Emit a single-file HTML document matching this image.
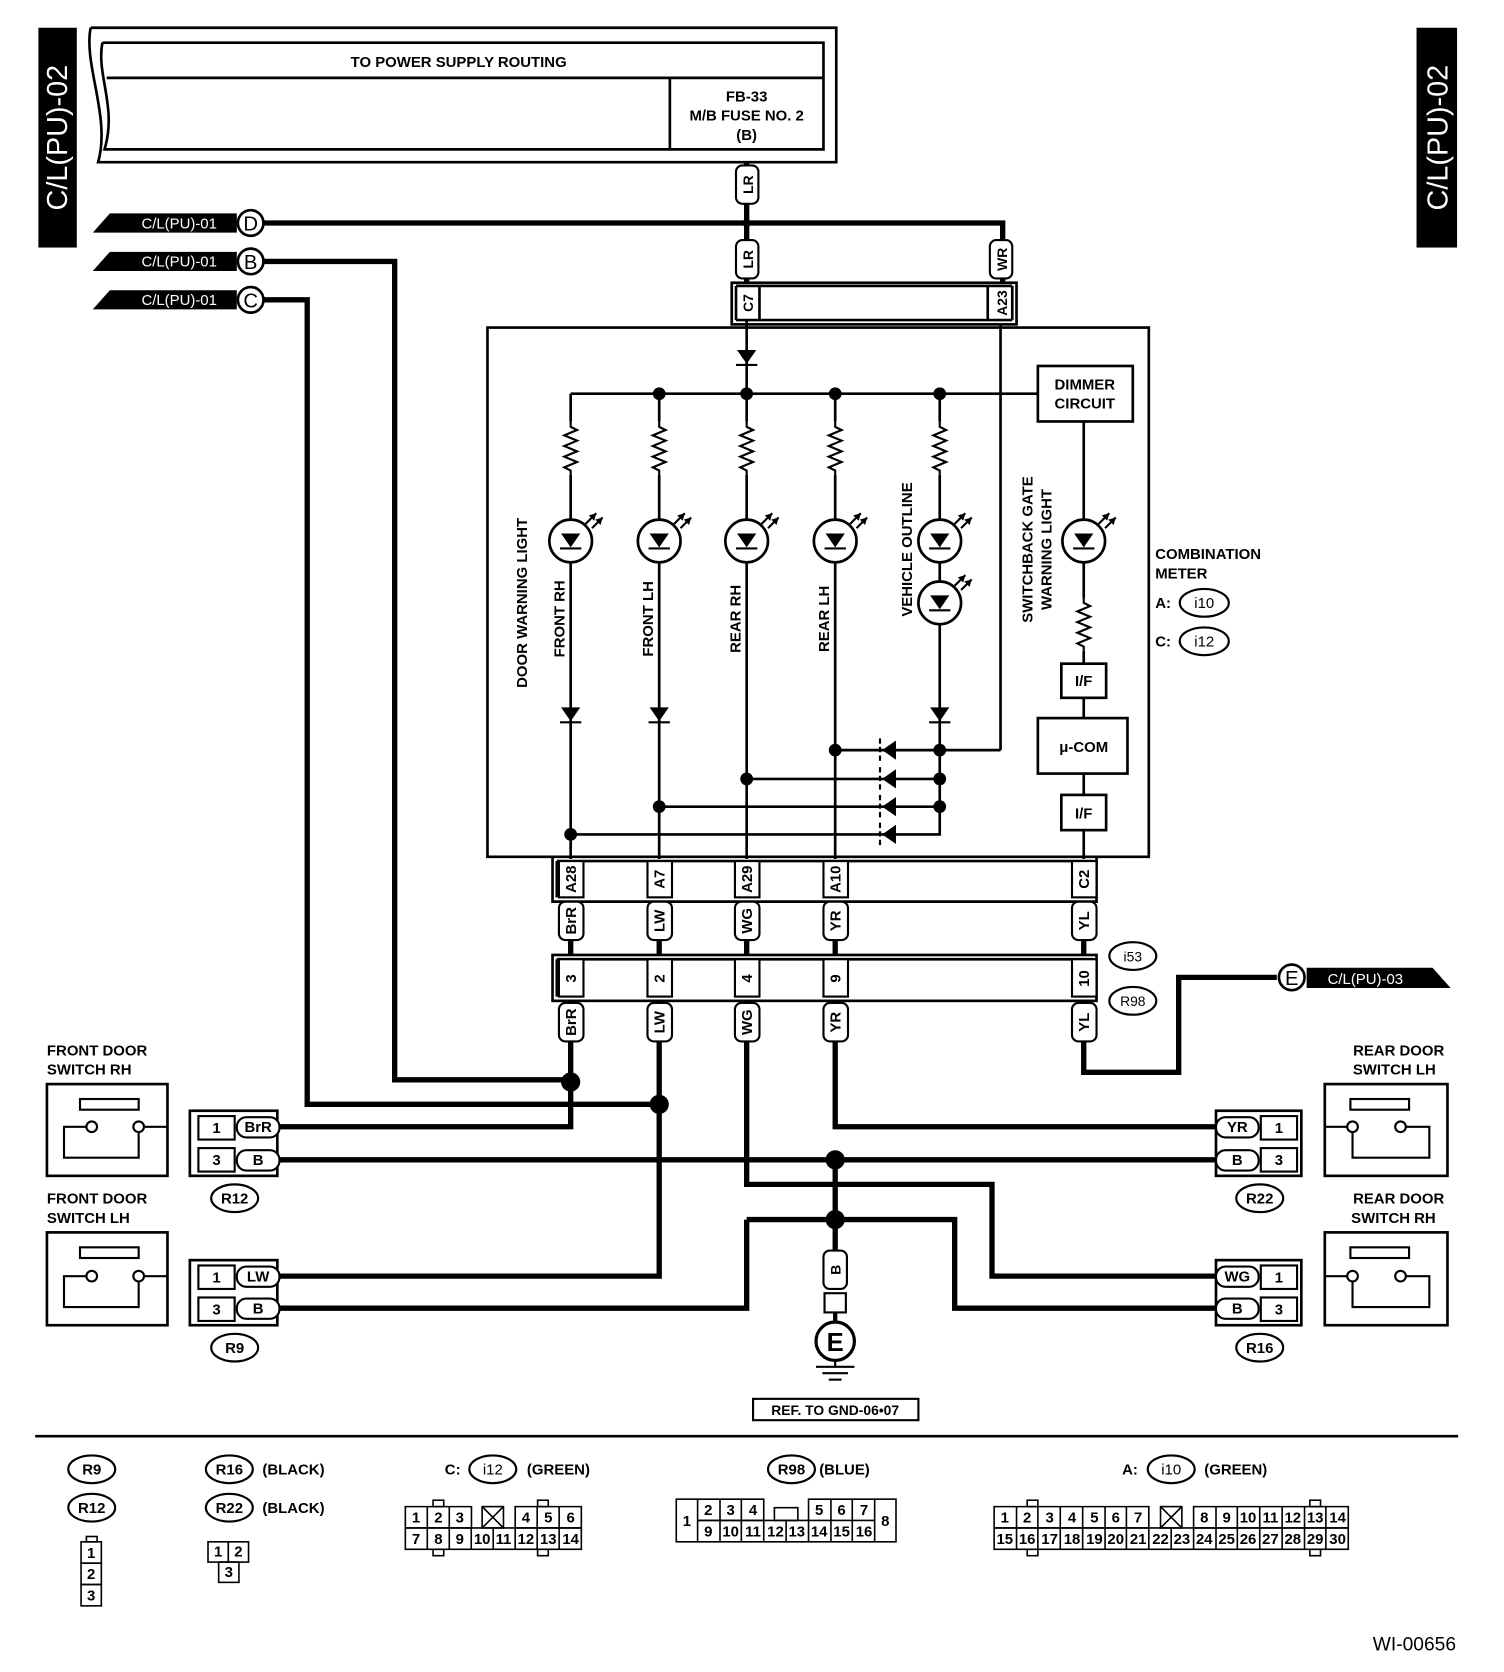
<!DOCTYPE html>
<html><head><meta charset="utf-8"><style>
html,body{margin:0;padding:0;background:#fff}
svg{display:block}
text{font-family:"Liberation Sans",sans-serif;font-weight:bold;font-size:14px;fill:#000}
</style></head><body>
<svg width="1504" height="1672" viewBox="0 0 1410 1567" preserveAspectRatio="none" xmlns="http://www.w3.org/2000/svg">
<defs>
<g id="res"><path d="M0,0 L0,5 L6,8 L-6,13 L6,18 L-6,23 L6,28 L-6,33 L6,38 L-6,43 L0,46 L0,50" fill="none" stroke="#000" stroke-width="2"/></g>
<g id="dd"><polygon points="-9,-7 9,-7 0,6" fill="#000"/><line x1="-10" y1="7" x2="10" y2="7" stroke="#000" stroke-width="2"/></g>
<g id="dl"><polygon points="8,-9 8,9 -5,0" fill="#000"/><line x1="-7" y1="-11" x2="-7" y2="11" stroke="#000" stroke-width="2" stroke-dasharray="5,3"/></g>
<g id="led"><circle r="20" fill="#fff" stroke="#000" stroke-width="2.5"/><use href="#dd"/><path d="M14,-16 L24,-26 M20,-12 L30,-22" stroke="#000" stroke-width="2"/><polygon points="24,-26 17,-24 22,-19" fill="#000"/><polygon points="30,-22 23,-20 28,-15" fill="#000"/></g>
</defs>
<rect x="36" y="26" width="36" height="206" fill="#000"/>
<text transform="translate(63,129) rotate(-90)" text-anchor="middle" style="fill:#fff;font-size:27px;font-weight:normal">C/L(PU)-02</text>
<rect x="1328" y="26" width="38" height="206" fill="#000"/>
<text transform="translate(1357,129) rotate(-90)" text-anchor="middle" style="fill:#fff;font-size:27px;font-weight:normal">C/L(PU)-02</text>
<g fill="none" stroke="#000" stroke-width="2.5">
<path d="M85,26 L784,26 L784,152 L92,152 C104,110 78,60 85,26"/>
<path d="M96,40 L772,40 L772,140 L98,140 C110,100 90,70 96,40"/>
<line x1="100" y1="73" x2="772" y2="73"/>
<line x1="628" y1="73" x2="628" y2="140"/>
</g>
<text x="430" y="63" text-anchor="middle">TO POWER SUPPLY ROUTING</text>
<text x="700" y="95" text-anchor="middle">FB-33</text>
<text x="700" y="113" text-anchor="middle">M/B FUSE NO. 2</text>
<text x="700" y="131" text-anchor="middle">(B)</text>
<g fill="none" stroke="#000" stroke-width="5">
<path d="M700,152 V265"/>
<path d="M248,209 H940 V265"/>
<path d="M248,245 H370 V1012 H535"/>
<path d="M248,281 H288 V1035 H618"/>
<path d="M535,975 V1056 H260"/>
<path d="M618,975 V1196 H260"/>
<path d="M260,1087 H1140"/>
<path d="M700,975 V1110 H930 V1196 H1140"/>
<path d="M783,975 V1056 H1140"/>
<path d="M783,1087 V1175"/>
<path d="M700,1143 H895 V1226 H1140"/>
<path d="M700,1143 V1226 H260"/>
<path d="M1016,975 V1005 H1105 V916 H1197"/>
</g>
<g fill="#000"><circle cx="700" cy="209" r="4"/><circle cx="535" cy="1014" r="9"/><circle cx="618" cy="1035" r="9"/><circle cx="783" cy="1087" r="9"/><circle cx="783" cy="1143" r="9"/></g>
<g>
<polygon points="87,218 103,200 222,200 222,218" fill="#000"/><text x="168" y="214" text-anchor="middle" style="fill:#fff;font-weight:normal">C/L(PU)-01</text>
<circle cx="235" cy="209" r="12" fill="#fff" stroke="#000" stroke-width="2.5"/><text x="235" y="216" text-anchor="middle" style="font-size:19px;font-weight:normal">D</text>
<polygon points="87,254 103,236 222,236 222,254" fill="#000"/><text x="168" y="250" text-anchor="middle" style="fill:#fff;font-weight:normal">C/L(PU)-01</text>
<circle cx="235" cy="245" r="12" fill="#fff" stroke="#000" stroke-width="2.5"/><text x="235" y="252" text-anchor="middle" style="font-size:19px;font-weight:normal">B</text>
<polygon points="87,290 103,272 222,272 222,290" fill="#000"/><text x="168" y="286" text-anchor="middle" style="fill:#fff;font-weight:normal">C/L(PU)-01</text>
<circle cx="235" cy="281" r="12" fill="#fff" stroke="#000" stroke-width="2.5"/><text x="235" y="288" text-anchor="middle" style="font-size:19px;font-weight:normal">C</text>
</g>
<g fill="#fff" stroke="#000" stroke-width="2">
<rect x="690" y="155" width="21" height="36" rx="6"/>
<rect x="690" y="225" width="21" height="36" rx="6"/>
<rect x="928" y="225" width="21" height="36" rx="6"/>
</g>
<text transform="translate(706,173) rotate(-90)" text-anchor="middle" style="font-size:13px">LR</text>
<text transform="translate(706,243) rotate(-90)" text-anchor="middle" style="font-size:13px">LR</text>
<text transform="translate(944,243) rotate(-90)" text-anchor="middle" style="font-size:13px">WR</text>
<g fill="none" stroke="#000" stroke-width="2.5">
<rect x="686" y="265" width="267" height="39"/>
<line x1="690" y1="268" x2="690" y2="300"/><line x1="949" y1="268" x2="949" y2="300"/>
<line x1="690" y1="268" x2="949" y2="268"/><line x1="690" y1="300" x2="949" y2="300"/>
<line x1="712" y1="268" x2="712" y2="300"/><line x1="926" y1="268" x2="926" y2="300"/>
<line x1="700" y1="300" x2="700" y2="307"/>
</g>
<text transform="translate(706,284) rotate(-90)" text-anchor="middle" style="font-size:13px">C7</text>
<text transform="translate(944,284) rotate(-90)" text-anchor="middle" style="font-size:13px">A23</text>
<rect x="457" y="307" width="620" height="496" fill="none" stroke="#000" stroke-width="2.5"/>
<g stroke="#000" stroke-width="2.5" fill="none">
<line x1="700" y1="307" x2="700" y2="369"/>
<line x1="535" y1="369" x2="973" y2="369"/>
<line x1="938" y1="304" x2="938" y2="703"/>
<line x1="938" y1="703" x2="881" y2="703"/>
<line x1="535" y1="369" x2="535" y2="395"/>
<line x1="535" y1="445" x2="535" y2="805"/>
<line x1="618" y1="369" x2="618" y2="395"/><line x1="618" y1="445" x2="618" y2="805"/>
<line x1="700" y1="369" x2="700" y2="395"/><line x1="700" y1="445" x2="700" y2="805"/>
<line x1="783" y1="369" x2="783" y2="395"/><line x1="783" y1="445" x2="783" y2="805"/>
<line x1="881" y1="369" x2="881" y2="395"/><line x1="881" y1="445" x2="881" y2="756"/>
<path d="M881,756 V782 H535"/>
<line x1="783" y1="703" x2="881" y2="703"/>
<line x1="700" y1="730" x2="881" y2="730"/>
<line x1="618" y1="756" x2="881" y2="756"/>
<line x1="1016" y1="395" x2="1016" y2="560"/><line x1="1016" y1="610" x2="1016" y2="805"/>
</g>
<use href="#dd" x="700" y="335"/>
<g fill="#000"><circle cx="618" cy="369" r="6"/><circle cx="700" cy="369" r="6"/><circle cx="783" cy="369" r="6"/><circle cx="881" cy="369" r="6"/>
<circle cx="783" cy="703" r="6"/><circle cx="700" cy="730" r="6"/><circle cx="618" cy="756" r="6"/><circle cx="535" cy="782" r="6"/>
<circle cx="881" cy="703" r="6"/><circle cx="881" cy="730" r="6"/><circle cx="881" cy="756" r="6"/></g>
<use href="#res" x="535" y="395"/><use href="#res" x="618" y="395"/><use href="#res" x="700" y="395"/><use href="#res" x="783" y="395"/><use href="#res" x="881" y="395"/><use href="#res" x="1016" y="560"/>
<use href="#led" x="535" y="507"/><use href="#led" x="618" y="507"/><use href="#led" x="700" y="507"/><use href="#led" x="783" y="507"/><use href="#led" x="881" y="507"/><use href="#led" x="881" y="565"/><use href="#led" x="1016" y="507"/>
<use href="#dd" x="535" y="670"/><use href="#dd" x="618" y="670"/><use href="#dd" x="881" y="670"/>
<use href="#dl" x="832" y="703"/><use href="#dl" x="832" y="730"/><use href="#dl" x="832" y="756"/><use href="#dl" x="832" y="782"/>
<g fill="#fff" stroke="#000" stroke-width="2.5">
<rect x="973" y="343" width="89" height="52"/>
<rect x="995" y="622" width="42" height="32"/>
<rect x="973" y="673" width="84" height="52"/>
<rect x="995" y="745" width="42" height="33"/>
</g>
<text x="1017" y="365" text-anchor="middle">DIMMER</text><text x="1017" y="383" text-anchor="middle">CIRCUIT</text>
<text x="1016" y="643" text-anchor="middle">I/F</text>
<text x="1016" y="705" text-anchor="middle">μ-COM</text>
<text x="1016" y="767" text-anchor="middle">I/F</text>
<text transform="translate(494,565) rotate(-90)" text-anchor="middle">DOOR WARNING LIGHT</text>
<text transform="translate(529,580) rotate(-90)" text-anchor="middle">FRONT RH</text>
<text transform="translate(612,580) rotate(-90)" text-anchor="middle">FRONT LH</text>
<text transform="translate(694,580) rotate(-90)" text-anchor="middle">REAR RH</text>
<text transform="translate(777,580) rotate(-90)" text-anchor="middle">REAR LH</text>
<text transform="translate(855,515) rotate(-90)" text-anchor="middle">VEHICLE OUTLINE</text>
<text transform="translate(968,515) rotate(-90)" text-anchor="middle">SWITCHBACK GATE</text>
<text transform="translate(986,515) rotate(-90)" text-anchor="middle">WARNING LIGHT</text>
<text x="1083" y="524">COMBINATION</text><text x="1083" y="542">METER</text>
<text x="1083" y="570">A:</text><text x="1083" y="606">C:</text>
<g fill="#fff" stroke="#000" stroke-width="2"><ellipse cx="1129" cy="565" rx="23" ry="13"/><ellipse cx="1129" cy="601" rx="23" ry="13"/>
<ellipse cx="1062" cy="896" rx="22" ry="13"/><ellipse cx="1062" cy="938" rx="22" ry="13"/></g>
<text x="1129" y="570" text-anchor="middle" style="font-weight:normal">i10</text><text x="1129" y="606" text-anchor="middle" style="font-weight:normal">i12</text>
<text x="1062" y="901" text-anchor="middle" style="font-weight:normal;font-size:13px">i53</text><text x="1062" y="943" text-anchor="middle" style="font-weight:normal;font-size:13px">R98</text>
<g fill="none" stroke="#000" stroke-width="2.5">
<path d="M518,803 V845 H1028 V803"/><path d="M522,807 H1024 V841 M522,807 V841"/>
<rect x="518" y="895" width="510" height="43"/><path d="M522,899 H1024 V934 M522,899 V934"/>
</g>
<g fill="#fff" stroke="#000" stroke-width="2">
<rect x="524" y="807" width="23" height="34"/><rect x="607" y="807" width="23" height="34"/><rect x="689" y="807" width="23" height="34"/><rect x="772" y="807" width="23" height="34"/><rect x="1005" y="807" width="23" height="34"/>
<rect x="524" y="899" width="23" height="35"/><rect x="607" y="899" width="23" height="35"/><rect x="689" y="899" width="23" height="35"/><rect x="772" y="899" width="23" height="35"/><rect x="1005" y="899" width="23" height="35"/>
</g>
<g stroke="#000" stroke-width="5"><line x1="535" y1="845" x2="535" y2="895"/><line x1="618" y1="845" x2="618" y2="895"/><line x1="700" y1="845" x2="700" y2="895"/><line x1="783" y1="845" x2="783" y2="895"/><line x1="1016" y1="845" x2="1016" y2="895"/>
<line x1="535" y1="938" x2="535" y2="975"/><line x1="618" y1="938" x2="618" y2="975"/><line x1="700" y1="938" x2="700" y2="975"/><line x1="783" y1="938" x2="783" y2="975"/><line x1="1016" y1="938" x2="1016" y2="975"/></g>
<g fill="#fff" stroke="#000" stroke-width="2">
<rect x="524" y="845" width="23" height="36" rx="6"/><rect x="607" y="845" width="23" height="36" rx="6"/><rect x="689" y="845" width="23" height="36" rx="6"/><rect x="772" y="845" width="23" height="36" rx="6"/><rect x="1005" y="845" width="23" height="36" rx="6"/>
<rect x="524" y="940" width="23" height="36" rx="6"/><rect x="607" y="940" width="23" height="36" rx="6"/><rect x="689" y="940" width="23" height="36" rx="6"/><rect x="772" y="940" width="23" height="36" rx="6"/><rect x="1005" y="940" width="23" height="36" rx="6"/>
</g>
<g style="font-size:13px">
<text transform="translate(540,824) rotate(-90)" text-anchor="middle">A28</text>
<text transform="translate(623,824) rotate(-90)" text-anchor="middle">A7</text>
<text transform="translate(705,824) rotate(-90)" text-anchor="middle">A29</text>
<text transform="translate(788,824) rotate(-90)" text-anchor="middle">A10</text>
<text transform="translate(1021,824) rotate(-90)" text-anchor="middle">C2</text>
<text transform="translate(540,863) rotate(-90)" text-anchor="middle">BrR</text>
<text transform="translate(623,863) rotate(-90)" text-anchor="middle">LW</text>
<text transform="translate(705,863) rotate(-90)" text-anchor="middle">WG</text>
<text transform="translate(788,863) rotate(-90)" text-anchor="middle">YR</text>
<text transform="translate(1021,863) rotate(-90)" text-anchor="middle">YL</text>
<text transform="translate(540,917) rotate(-90)" text-anchor="middle">3</text>
<text transform="translate(623,917) rotate(-90)" text-anchor="middle">2</text>
<text transform="translate(705,917) rotate(-90)" text-anchor="middle">4</text>
<text transform="translate(788,917) rotate(-90)" text-anchor="middle">9</text>
<text transform="translate(1021,917) rotate(-90)" text-anchor="middle">10</text>
<text transform="translate(540,958) rotate(-90)" text-anchor="middle">BrR</text>
<text transform="translate(623,958) rotate(-90)" text-anchor="middle">LW</text>
<text transform="translate(705,958) rotate(-90)" text-anchor="middle">WG</text>
<text transform="translate(788,958) rotate(-90)" text-anchor="middle">YR</text>
<text transform="translate(1021,958) rotate(-90)" text-anchor="middle">YL</text>
</g>
<circle cx="1211" cy="916" r="12" fill="#fff" stroke="#000" stroke-width="2.5"/><text x="1211" y="923" text-anchor="middle" style="font-size:19px;font-weight:normal">E</text>
<polygon points="1225,907 1343,907 1360,926 1225,926" fill="#000"/><text x="1280" y="922" text-anchor="middle" style="fill:#fff;font-weight:normal">C/L(PU)-03</text>
<g fill="none" stroke="#000" stroke-width="2.5">
<rect x="44" y="1016" width="113" height="86"/><rect x="44" y="1155" width="113" height="87"/>
<rect x="1242" y="1016" width="115" height="86"/><rect x="1242" y="1155" width="115" height="87"/>
<rect x="178" y="1041" width="82" height="61"/><rect x="178" y="1181" width="82" height="61"/>
<rect x="1140" y="1041" width="80" height="61"/><rect x="1140" y="1181" width="80" height="61"/>
</g>
<g fill="#fff" stroke="#000" stroke-width="2">
<rect x="75" y="1030" width="55" height="10"/><rect x="75" y="1169" width="55" height="10"/>
<rect x="1266" y="1030" width="55" height="10"/><rect x="1266" y="1169" width="55" height="10"/>
<path d="M86,1056 H60 V1085 H130 V1056 M157,1056 H130" fill="none"/>
<path d="M86,1196 H60 V1225 H130 V1196 M157,1196 H130" fill="none"/>
<path d="M1242,1056 H1268 M1313,1056 H1340 V1085 H1268 V1056" fill="none"/>
<path d="M1242,1196 H1268 M1313,1196 H1340 V1225 H1268 V1196" fill="none"/>
<circle cx="86" cy="1056" r="5"/><circle cx="130" cy="1056" r="5"/><circle cx="86" cy="1196" r="5"/><circle cx="130" cy="1196" r="5"/>
<circle cx="1268" cy="1056" r="5"/><circle cx="1313" cy="1056" r="5"/><circle cx="1268" cy="1196" r="5"/><circle cx="1313" cy="1196" r="5"/>
<rect x="186" y="1046" width="34" height="22"/><rect x="186" y="1076" width="34" height="22"/>
<rect x="186" y="1186" width="34" height="22"/><rect x="186" y="1216" width="34" height="22"/>
<rect x="1182" y="1046" width="34" height="22"/><rect x="1182" y="1076" width="34" height="22"/>
<rect x="1182" y="1186" width="34" height="22"/><rect x="1182" y="1216" width="34" height="22"/>
<rect x="222" y="1047" width="40" height="19" rx="9"/><rect x="222" y="1078" width="40" height="19" rx="9"/>
<rect x="222" y="1187" width="40" height="19" rx="9"/><rect x="222" y="1217" width="40" height="19" rx="9"/>
<rect x="1140" y="1047" width="40" height="19" rx="9"/><rect x="1140" y="1078" width="40" height="19" rx="9"/>
<rect x="1140" y="1187" width="40" height="19" rx="9"/><rect x="1140" y="1217" width="40" height="19" rx="9"/>
<ellipse cx="220" cy="1123" rx="22" ry="13"/><ellipse cx="220" cy="1263" rx="22" ry="13"/>
<ellipse cx="1181" cy="1123" rx="22" ry="13"/><ellipse cx="1181" cy="1263" rx="22" ry="13"/>
</g>
<g style="font-size:13px">
<text x="203" y="1062" text-anchor="middle">1</text><text x="203" y="1092" text-anchor="middle">3</text>
<text x="203" y="1202" text-anchor="middle">1</text><text x="203" y="1232" text-anchor="middle">3</text>
<text x="1199" y="1062" text-anchor="middle">1</text><text x="1199" y="1092" text-anchor="middle">3</text>
<text x="1199" y="1202" text-anchor="middle">1</text><text x="1199" y="1232" text-anchor="middle">3</text>
<text x="242" y="1061" text-anchor="middle">BrR</text><text x="242" y="1092" text-anchor="middle">B</text>
<text x="242" y="1201" text-anchor="middle">LW</text><text x="242" y="1231" text-anchor="middle">B</text>
<text x="1160" y="1061" text-anchor="middle">YR</text><text x="1160" y="1092" text-anchor="middle">B</text>
<text x="1160" y="1201" text-anchor="middle">WG</text><text x="1160" y="1231" text-anchor="middle">B</text>
<text x="220" y="1128" text-anchor="middle">R12</text><text x="220" y="1268" text-anchor="middle">R9</text>
<text x="1181" y="1128" text-anchor="middle">R22</text><text x="1181" y="1268" text-anchor="middle">R16</text>
</g>
<text x="44" y="989">FRONT DOOR</text><text x="44" y="1007">SWITCH RH</text>
<text x="44" y="1128">FRONT DOOR</text><text x="44" y="1146">SWITCH LH</text>
<text x="1354" y="989" text-anchor="end">REAR DOOR</text><text x="1346" y="1007" text-anchor="end">SWITCH LH</text>
<text x="1354" y="1128" text-anchor="end">REAR DOOR</text><text x="1346" y="1146" text-anchor="end">SWITCH RH</text>
<rect x="772" y="1172" width="22" height="36" rx="6" fill="#fff" stroke="#000" stroke-width="2"/>
<text transform="translate(788,1190) rotate(-90)" text-anchor="middle" style="font-size:13px">B</text>
<rect x="773" y="1212" width="20" height="18" fill="#fff" stroke="#000" stroke-width="2"/>
<line x1="783" y1="1230" x2="783" y2="1240" stroke="#000" stroke-width="4"/>
<circle cx="783" cy="1257" r="18" fill="#fff" stroke="#000" stroke-width="3"/>
<text x="783" y="1266" text-anchor="middle" style="font-size:24px">E</text>
<g stroke="#000" stroke-width="2"><line x1="783" y1="1275" x2="783" y2="1281"/><line x1="765" y1="1281" x2="801" y2="1281"/><line x1="771" y1="1287" x2="795" y2="1287"/><line x1="777" y1="1293" x2="789" y2="1293"/></g>
<rect x="706" y="1311" width="155" height="20" fill="none" stroke="#000" stroke-width="2"/>
<text x="783" y="1326" text-anchor="middle" style="font-size:13px">REF. TO GND-06•07</text>
<line x1="33" y1="1346" x2="1367" y2="1346" stroke="#000" stroke-width="2.5"/>
<g fill="#fff" stroke="#000" stroke-width="2">
<ellipse cx="86" cy="1377" rx="22" ry="13"/><ellipse cx="86" cy="1413" rx="22" ry="13"/>
<ellipse cx="215" cy="1377" rx="22" ry="13"/><ellipse cx="215" cy="1413" rx="22" ry="13"/>
<ellipse cx="462" cy="1377" rx="22" ry="13"/><ellipse cx="742" cy="1377" rx="22" ry="13"/><ellipse cx="1098" cy="1377" rx="22" ry="13"/>
</g>
<g style="font-size:13px">
<text x="86" y="1382" text-anchor="middle">R9</text><text x="86" y="1418" text-anchor="middle">R12</text>
<text x="215" y="1382" text-anchor="middle">R16</text><text x="215" y="1418" text-anchor="middle">R22</text>
<text x="246" y="1382">(BLACK)</text><text x="246" y="1418">(BLACK)</text>
<text x="417" y="1382">C:</text><text x="462" y="1382" text-anchor="middle" style="font-weight:normal">i12</text><text x="494" y="1382">(GREEN)</text>
<text x="742" y="1382" text-anchor="middle">R98</text><text x="768" y="1382">(BLUE)</text>
<text x="1052" y="1382">A:</text><text x="1098" y="1382" text-anchor="middle" style="font-weight:normal">i10</text><text x="1129" y="1382">(GREEN)</text>
</g>
<g fill="none" stroke="#000" stroke-width="1.5">
<rect x="81" y="1440" width="10" height="5"/>
<rect x="76" y="1445" width="19" height="20"/><rect x="76" y="1465" width="19" height="20"/><rect x="76" y="1485" width="19" height="20"/>
<rect x="195" y="1445" width="19" height="19"/><rect x="214" y="1445" width="19" height="19"/><rect x="205" y="1464" width="19" height="19"/>
</g>
<g style="font-size:12px;font-weight:normal">
<text x="85.5" y="1460" text-anchor="middle">1</text><text x="85.5" y="1480" text-anchor="middle">2</text><text x="85.5" y="1500" text-anchor="middle">3</text>
<text x="204.5" y="1459" text-anchor="middle">1</text><text x="223.5" y="1459" text-anchor="middle">2</text><text x="214.5" y="1478" text-anchor="middle">3</text>
</g>
<g fill="none" stroke="#000" stroke-width="1.5">
<path d="M380,1412 H442 V1432 H380 Z M400.6,1412 V1432 M421.2,1412 V1432"/>
<rect x="452" y="1412" width="20" height="20"/><path d="M452,1412 L472,1432 M472,1412 L452,1432"/>
<path d="M483,1412 H545 V1432 H483 Z M503.6,1412 V1432 M524.2,1412 V1432"/>
<rect x="380" y="1432" width="165" height="20"/>
<path d="M400.6,1432 V1452 M421.2,1432 V1452 M441.8,1432 V1452 M462.4,1432 V1452 M483,1432 V1452 M503.6,1432 V1452 M524.2,1432 V1452"/>
<rect x="406" y="1406" width="10" height="6"/><rect x="504" y="1406" width="10" height="6"/><rect x="406" y="1452" width="10" height="6"/><rect x="504" y="1452" width="10" height="6"/>
</g>
<g style="font-size:12px;font-weight:normal" text-anchor="middle">
<text x="390" y="1427">1</text><text x="411" y="1427">2</text><text x="431" y="1427">3</text><text x="493" y="1427">4</text><text x="514" y="1427">5</text><text x="535" y="1427">6</text>
<text x="390" y="1447">7</text><text x="411" y="1447">8</text><text x="431" y="1447">9</text><text x="452" y="1447">10</text><text x="472" y="1447">11</text><text x="493" y="1447">12</text><text x="514" y="1447">13</text><text x="535" y="1447">14</text>
</g>
<g fill="none" stroke="#000" stroke-width="1.5">
<rect x="634" y="1405" width="20" height="40"/><rect x="820" y="1405" width="20" height="40"/>
<path d="M654,1405 H716 V1425 H654 M675,1405 V1425 M695,1405 V1425"/>
<path d="M758,1425 V1405 H820 M779,1405 V1425 M799,1405 V1425"/>
<rect x="726" y="1413" width="22" height="12"/>
<path d="M654,1425 H820 M654,1445 H820 M675,1425 V1445 M695,1425 V1445 M716,1425 V1445 M737,1425 V1445 M758,1425 V1445 M779,1425 V1445 M799,1425 V1445"/>
</g>
<g style="font-size:12px;font-weight:normal" text-anchor="middle">
<text x="644" y="1430">1</text><text x="830" y="1430">8</text>
<text x="664" y="1420">2</text><text x="685" y="1420">3</text><text x="706" y="1420">4</text><text x="768" y="1420">5</text><text x="789" y="1420">6</text><text x="810" y="1420">7</text>
<text x="664" y="1440">9</text><text x="685" y="1440">10</text><text x="706" y="1440">11</text><text x="727" y="1440">12</text><text x="747" y="1440">13</text><text x="768" y="1440">14</text><text x="789" y="1440">15</text><text x="810" y="1440">16</text>
</g>
<g fill="none" stroke="#000" stroke-width="1.5">
<path d="M932,1412 H1077 V1432 H932 Z M953,1412 V1432 M973,1412 V1432 M994,1412 V1432 M1015,1412 V1432 M1036,1412 V1432 M1056,1412 V1432"/>
<rect x="1088" y="1412" width="20" height="20"/><path d="M1088,1412 L1108,1432 M1108,1412 L1088,1432"/>
<path d="M1119,1412 H1264 V1432 H1119 Z M1140,1412 V1432 M1160,1412 V1432 M1181,1412 V1432 M1202,1412 V1432 M1223,1412 V1432 M1243,1412 V1432"/>
<rect x="932" y="1432" width="332" height="20"/>
<path d="M953,1432 V1452 M973,1432 V1452 M994,1432 V1452 M1015,1432 V1452 M1036,1432 V1452 M1056,1432 V1452 M1077,1432 V1452 M1098,1432 V1452 M1119,1432 V1452 M1140,1432 V1452 M1160,1432 V1452 M1181,1432 V1452 M1202,1432 V1452 M1223,1432 V1452 M1243,1432 V1452"/>
<rect x="963" y="1406" width="10" height="6"/><rect x="1228" y="1406" width="10" height="6"/><rect x="963" y="1452" width="10" height="6"/><rect x="1228" y="1452" width="10" height="6"/>
</g>
<g style="font-size:12px;font-weight:normal" text-anchor="middle">
<text x="942" y="1427">1</text><text x="963" y="1427">2</text><text x="984" y="1427">3</text><text x="1005" y="1427">4</text><text x="1026" y="1427">5</text><text x="1046" y="1427">6</text><text x="1067" y="1427">7</text>
<text x="1129" y="1427">8</text><text x="1150" y="1427">9</text><text x="1170" y="1427">10</text><text x="1191" y="1427">11</text><text x="1212" y="1427">12</text><text x="1233" y="1427">13</text><text x="1254" y="1427">14</text>
<text x="942" y="1447">15</text><text x="963" y="1447">16</text><text x="984" y="1447">17</text><text x="1005" y="1447">18</text><text x="1026" y="1447">19</text><text x="1046" y="1447">20</text><text x="1067" y="1447">21</text><text x="1088" y="1447">22</text>
<text x="1108" y="1447">23</text><text x="1129" y="1447">24</text><text x="1150" y="1447">25</text><text x="1170" y="1447">26</text><text x="1191" y="1447">27</text><text x="1212" y="1447">28</text><text x="1233" y="1447">29</text><text x="1254" y="1447">30</text>
</g>
<text x="1365" y="1547" text-anchor="end" style="font-size:18px;font-weight:normal">WI-00656</text>
</svg>
</body></html>
